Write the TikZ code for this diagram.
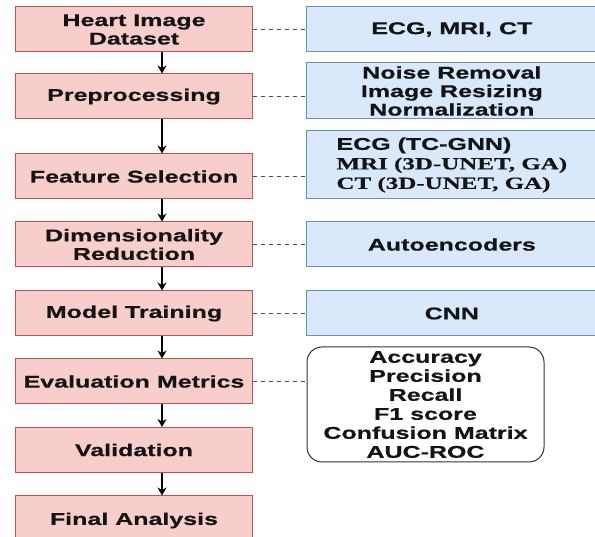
\documentclass[tikz,border=0pt]{standalone}
\usepackage{fontspec}
\usetikzlibrary{arrows.meta}
\newfontfamily\sfb{Liberation Sans}[FakeStretch=1.47, BoldFeatures={FakeBold=0.6}]
\newfontfamily\rmb{Liberation Serif}[FakeStretch=1.47, BoldFeatures={FakeBold=0.6}]
\definecolor{lpink}{HTML}{F8CECC}
\definecolor{lred}{HTML}{B85450}
\definecolor{lblue}{HTML}{DAE8FC}
\definecolor{rblue}{HTML}{6C8EBF}
\definecolor{ink}{HTML}{141414}
\tikzset{
  base/.style={inner sep=0pt, text=ink, line width=1pt,
    font=\sfb\bfseries\fontsize{17}{18.5}\selectfont},
  lbox/.style={base, draw=lred, fill=lpink, minimum width=237pt, minimum height=45pt, align=center},
  rbox/.style={base, draw=rblue, fill=lblue, minimum width=290.3pt, minimum height=45pt, align=center},
  mbox/.style={base, draw=black!80, fill=white, rounded corners=15pt, minimum width=237pt, minimum height=115pt, align=center,
    font=\sfb\bfseries\fontsize{17}{19}\selectfont},
  arr/.style={-{Stealth[length=8pt,width=9pt]}, line width=1.2pt, black},
  dashlink/.style={dash pattern=on 4pt off 4pt, line width=1pt, black!70}
}
\begin{document}
\begin{tikzpicture}[x=1pt,y=1pt]
\useasboundingbox (0,0) rectangle (595,-537);
\clip (0,0) rectangle (595,-537);
% left column
\node[lbox] (l1) at (134,-29.5) {Heart Image\\Dataset};
\node[lbox] (l2) at (134,-96.5) {Preprocessing};
\node[lbox] (l3) at (134,-176.5) {Feature Selection};
\node[lbox] (l4) at (134,-244.5) {Dimensionality\\Reduction};
\node[lbox] (l5) at (134,-313.5) {Model Training};
\node[lbox] (l6) at (134,-381.5) {Evaluation Metrics};
\node[lbox] (l7) at (134,-450) {Validation};
\node[lbox, minimum height=49pt] (l8) at (134,-520.5) {Final Analysis};
% right column
\node[rbox] (r1) at (451.85,-29.5) {ECG, MRI, CT};
\node[rbox, minimum height=56pt] (r2) at (451.85,-91) {Noise Removal\\Image Resizing\\Normalization};
\node[rbox, minimum height=68pt, align=left, font=\fontsize{17}{19.5}\selectfont] (r3) at (451.85,-165)
  {{\sfb\bfseries ECG (TC-GNN)}\\{\rmb\bfseries MRI (3D-UNET, GA)}\\{\rmb\bfseries CT (3D-UNET, GA)}};
\node[rbox] (r4) at (451.85,-244.5) {Autoencoders};
\node[rbox] (r5) at (451.85,-313.5) {CNN};
\node[mbox] (r6) at (425.5,-404.5) {Accuracy\\Precision\\Recall\\F1 score\\Confusion Matrix\\AUC-ROC};
% arrows
\foreach \a/\b in {l1/l2,l2/l3,l3/l4,l4/l5,l5/l6,l6/l7,l7/l8}
  \draw[arr] ([xshift=28pt]\a.south) -- ([xshift=28pt]\b.north);
% dashed links
\foreach \a/\b in {l1/r1,l2/r2,l3/r3,l4/r4,l5/r5,l6/r6}
  \draw[dashlink] (\a.east) -- (\a.east -| \b.west);
\end{tikzpicture}
\end{document}
